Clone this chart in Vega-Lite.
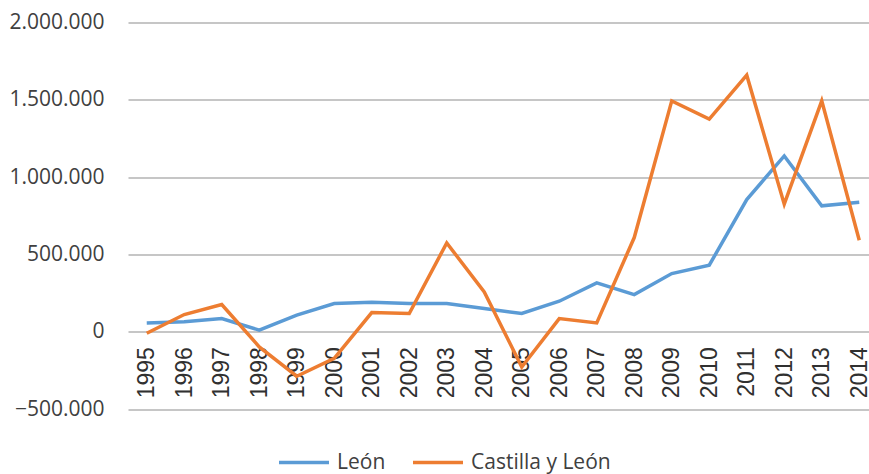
{
  "$schema": "https://vega.github.io/schema/vega-lite/v6.json",
  "width": 750,
  "height": 386.5,
  "autosize": {"type": "none"},
  "padding": {"left": 128, "top": 22.5, "right": 0, "bottom": 65.5},
  "background": "white",
  "view": {"stroke": null},
  "data": {
    "values": [
      {"year": "1995", "serie": "León", "value": 57000},
      {"year": "1996", "serie": "León", "value": 65000},
      {"year": "1997", "serie": "León", "value": 85000},
      {"year": "1998", "serie": "León", "value": 10000},
      {"year": "1999", "serie": "León", "value": 107000},
      {"year": "2000", "serie": "León", "value": 182000},
      {"year": "2001", "serie": "León", "value": 191000},
      {"year": "2002", "serie": "León", "value": 182000},
      {"year": "2003", "serie": "León", "value": 182000},
      {"year": "2004", "serie": "León", "value": 150000},
      {"year": "2005", "serie": "León", "value": 118000},
      {"year": "2006", "serie": "León", "value": 197000},
      {"year": "2007", "serie": "León", "value": 316000},
      {"year": "2008", "serie": "León", "value": 240000},
      {"year": "2009", "serie": "León", "value": 376000},
      {"year": "2010", "serie": "León", "value": 430000},
      {"year": "2011", "serie": "León", "value": 855000},
      {"year": "2012", "serie": "León", "value": 1137000},
      {"year": "2013", "serie": "León", "value": 814000},
      {"year": "2014", "serie": "León", "value": 838000},
      {"year": "1995", "serie": "Castilla y León", "value": -10000},
      {"year": "1996", "serie": "Castilla y León", "value": 111000},
      {"year": "1997", "serie": "Castilla y León", "value": 176000},
      {"year": "1998", "serie": "Castilla y León", "value": -98000},
      {"year": "1999", "serie": "Castilla y León", "value": -288000},
      {"year": "2000", "serie": "Castilla y León", "value": -173000},
      {"year": "2001", "serie": "Castilla y León", "value": 124000},
      {"year": "2002", "serie": "Castilla y León", "value": 118000},
      {"year": "2003", "serie": "Castilla y León", "value": 574000},
      {"year": "2004", "serie": "Castilla y León", "value": 257000},
      {"year": "2005", "serie": "Castilla y León", "value": -228000},
      {"year": "2006", "serie": "Castilla y León", "value": 85000},
      {"year": "2007", "serie": "Castilla y León", "value": 57000},
      {"year": "2008", "serie": "Castilla y León", "value": 609000},
      {"year": "2009", "serie": "Castilla y León", "value": 1493000},
      {"year": "2010", "serie": "Castilla y León", "value": 1375000},
      {"year": "2011", "serie": "Castilla y León", "value": 1659000},
      {"year": "2012", "serie": "Castilla y León", "value": 825000},
      {"year": "2013", "serie": "Castilla y León", "value": 1493000},
      {"year": "2014", "serie": "Castilla y León", "value": 592000}
    ]
  },
  "mark": {"type": "line", "strokeWidth": 3.5, "strokeJoin": "miter", "clip": false},
  "encoding": {
    "x": {
      "field": "year",
      "type": "ordinal",
      "scale": {"type": "point", "padding": 0.5},
      "axis": {
        "title": null,
        "orient": "bottom",
        "offset": -77.3,
        "domain": false,
        "ticks": false,
        "grid": false,
        "labelAngle": -90,
        "labelAlign": "right",
        "labelBaseline": "middle",
        "labelPadding": 15,
        "labelFont": "Liberation Sans",
        "labelFontSize": 23,
        "labelColor": "#303030"
      }
    },
    "y": {
      "field": "value",
      "type": "quantitative",
      "scale": {"domain": [-500000, 2000000], "nice": false, "zero": false},
      "axis": {
        "title": null,
        "values": [-500000, 0, 500000, 1000000, 1500000, 2000000],
        "format": ",d",
        "labelExpr": "replace(replace(datum.label, ',', '.'), ',', '.')",
        "domain": false,
        "ticks": false,
        "grid": true,
        "gridColor": "#b3b3b3",
        "gridWidth": 1.5,
        "labelPadding": 24,
        "labelFont": "Open Sans",
        "labelFontSize": 21,
        "labelColor": "#404040"
      }
    },
    "color": {
      "field": "serie",
      "type": "nominal",
      "sort": ["León", "Castilla y León"],
      "scale": {"domain": ["León", "Castilla y León"], "range": ["#5B9BD5", "#ED7D31"]},
      "legend": {
        "title": null,
        "orient": "none",
        "direction": "horizontal",
        "legendX": 149,
        "legendY": 413,
        "symbolType": "stroke",
        "symbolStrokeWidth": 3.5,
        "symbolSize": 2500,
        "labelFont": "Open Sans",
        "labelFontSize": 21,
        "labelColor": "#404040",
        "columnPadding": 20,
        "labelOffset": 6
      }
    }
  }
}
